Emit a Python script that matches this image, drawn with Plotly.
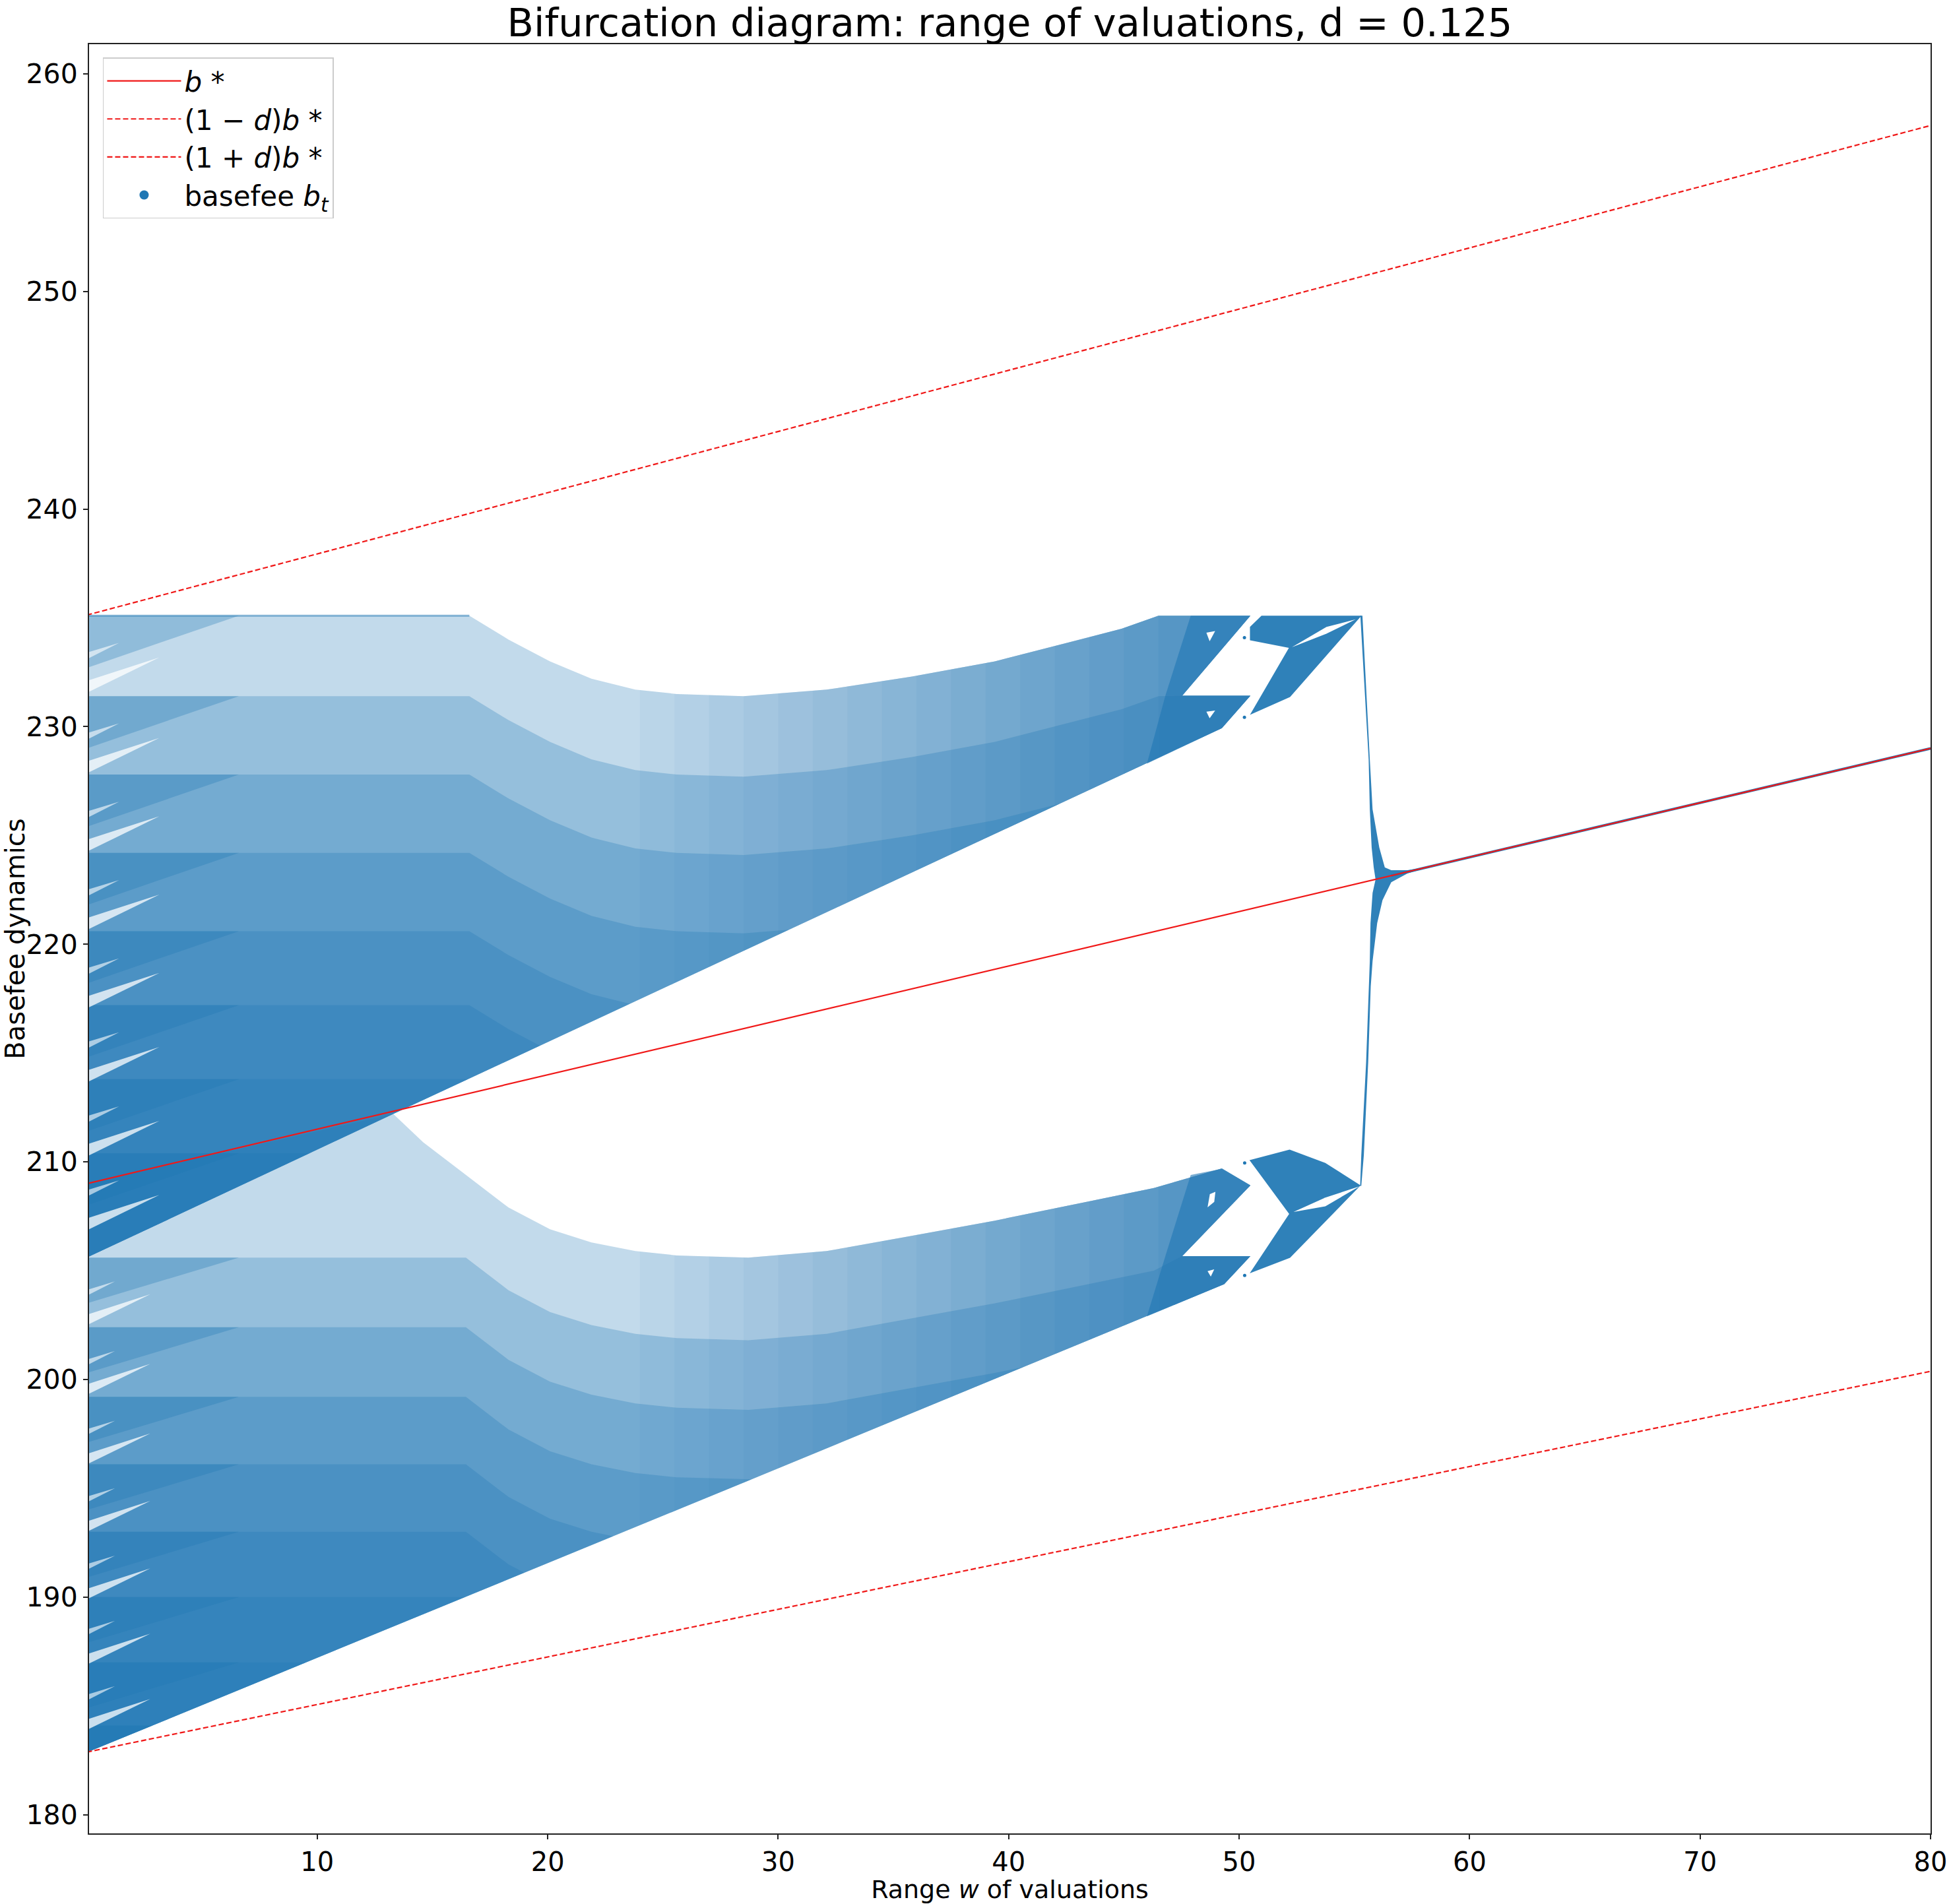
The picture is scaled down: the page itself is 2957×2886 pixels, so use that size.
import numpy as np
import plotly.graph_objects as go

# ---------------- data ----------------
TITLE = "Bifurcation diagram: range of valuations, d = 0.125"

# reference lines (straight, values at w = 0 and w = 80)
line_w = [0.0, 80.0]
bstar = [209.0, 229.0]
bstar_low = [182.875, 200.375]    # (1-d) b*
bstar_high = [235.125, 257.625]   # (1+d) b*

# upper cloud: upper envelope, lower edge, fork corner
up_top_w = [0, 16.6, 18.3, 20.1, 21.9, 23.8, 25.6, 28.5, 32.1, 35.8, 39.4, 43.1, 44.9, 46.5]
up_top_b = [235.1, 235.1, 234.0, 233.0, 232.2, 231.7, 231.5, 231.4, 231.7, 232.3, 233.0, 234.0, 234.5, 235.1]
up_low_w = [0, 13.34, 49.25]
up_low_b = [205.6, 212.22, 229.93]
up_fork_w = [50.49, 47.53, 50.49, 49.25]
up_fork_b = [235.1, 231.42, 231.42, 229.93]
up_tooth_b = [235.1, 231.4, 227.8, 224.2, 220.6, 217.2, 213.8, 210.4]

# lower cloud
lo_top_w = [0, 13.3, 14.6, 16.45, 18.3, 20.1, 21.9, 23.8, 25.6, 28.7, 32.1, 35.8, 39.4, 43.1, 46.3, 49.25]
lo_top_b = [209.0, 212.2, 210.9, 209.4, 207.9, 206.9, 206.3, 205.9, 205.7, 205.6, 205.9, 206.6, 207.3, 208.1, 208.8, 209.7]
lo_low_w = [0, 28.66, 49.35]
lo_low_b = [182.86, 195.33, 204.38]
lo_fork_w = [50.49, 47.53, 50.49, 49.35]
lo_fork_b = [208.92, 205.67, 205.67, 204.38]
lo_tooth_b = [205.6, 202.4, 199.2, 196.1, 193.0, 190.0, 187.0, 184.1]

# dense fork pieces (left and right parts) near the collapse
up_fork_left1_w = [47.9, 50.49, 47.53, 46.8]
up_fork_left1_b = [235.1, 235.1, 231.42, 231.42]
up_fork_left2_w = [46.8, 50.49, 49.25, 46.0]
up_fork_left2_b = [231.42, 231.42, 229.93, 228.3]
up_fork_right_w = [50.97, 55.31, 52.21, 50.47, 52.16, 50.47, 50.47]
up_fork_right_b = [235.1, 235.1, 231.36, 230.54, 233.62, 233.97, 234.58]
lo_fork_left1_w = [47.9, 49.25, 50.49, 47.53, 46.8]
lo_fork_left1_b = [209.4, 209.68, 208.92, 205.67, 205.67]
lo_fork_left2_w = [46.8, 50.49, 49.35, 46.0]
lo_fork_left2_b = [205.67, 205.67, 204.38, 202.9]
lo_fork_right_w = [50.45, 52.19, 53.74, 55.27, 52.21, 50.46, 52.17]
lo_fork_right_b = [210.08, 210.56, 209.95, 208.92, 205.59, 204.88, 207.61]

# empty pockets inside the forks
up_lens_w = [52.29, 53.79, 55.06, 53.79]
up_lens_b = [233.65, 234.58, 234.93, 234.27]
lo_lens_w = [52.36, 53.74, 55.22, 53.74]
lo_lens_b = [207.7, 208.36, 208.87, 207.96]
holes = [
    ([48.58, 48.96, 48.72], [234.32, 234.39, 233.92]),
    ([48.58, 48.96, 48.72], [230.69, 230.74, 230.38]),
    ([48.73, 48.97, 48.92, 48.63], [208.52, 208.62, 208.16, 207.91]),
    ([48.63, 48.92, 48.77], [204.98, 205.06, 204.73]),
]

# collapse strand (left edge top->bottom, then right edge bottom->top)
strand_w = [55.26, 55.45, 55.62, 55.67, 55.75, 55.84, 55.92, 55.79, 55.75, 55.70, 55.67, 55.63, 55.51, 55.30, 55.25,
            55.30, 55.41, 55.60, 55.71, 55.79, 55.99, 56.22, 56.6, 57.3, 58.2,
            57.3, 56.6, 56.32, 56.08, 55.79, 55.67, 55.35]
strand_b = [235.1, 231.5, 228.5, 226.2, 224.45, 223.53, 222.98, 222.36, 221.55, 220.97, 219.23, 218.07, 214.58, 210.3, 208.9,
            208.9, 210.3, 214.58, 218.07, 219.23, 220.97, 222.02, 222.85, 223.25, 223.55,
            223.4, 223.4, 223.53, 224.45, 226.2, 228.5, 235.1]
# converged branch lying on b*
conv_w = [56.6, 80.0]
conv_b = [223.15, 229.0]
# isolated points
dot_w = [50.23, 50.23, 50.24, 50.24]
dot_b = [234.09, 230.43, 209.95, 204.78]
# densely hit top edge of the upper cloud
top_edge_w = [0.0, 16.6]
top_edge_b = [235.1, 235.1]

# density steps (w where the cloud gets denser as it narrows)
boost_start = [24, 25.5, 27, 28.5, 30, 31.5, 33, 34.5, 36, 37.5, 39, 40.5, 42, 43.5, 45, 46.5]
boost_alpha = [0.045, 0.045, 0.05, 0.05, 0.05, 0.055, 0.055, 0.06, 0.06, 0.065, 0.065, 0.065, 0.07, 0.07, 0.075, 0.08]

BLUE = "31,119,180"
fig = go.Figure()


def poly(xs, ys, color, name="basefee"):
    fig.add_trace(go.Scatter(x=list(xs) + [xs[0]], y=list(ys) + [ys[0]], mode="lines",
                             line=dict(width=0), fill="toself", fillcolor=color,
                             hoverinfo="skip", showlegend=False, legendgroup=name))


def band(bw, bb, lw, lb, tail_w, tail_b):
    xs, ys, end_w = [], [], None
    for i in range(len(bw)):
        L = float(np.interp(bw[i], lw, lb))
        if bb[i] > L:
            xs.append(bw[i]); ys.append(bb[i])
        else:
            w0, b0 = bw[i - 1], bb[i - 1]
            d0 = b0 - float(np.interp(w0, lw, lb)); d1 = bb[i] - L
            t = d0 / (d0 - d1)
            wi = w0 + t * (bw[i] - w0); bi = b0 + t * (bb[i] - b0)
            xs.append(wi); ys.append(bi); end_w = wi
            break
    if end_w is None:
        xs += list(tail_w); ys += list(tail_b); end_w = tail_w[-1]
    for w, b in zip(reversed(lw), reversed(lb)):
        if w < end_w - 1e-6:
            xs.append(w); ys.append(b)
    return xs, ys


def boost(x0, tw, tb, tail_w, tail_b, lw, lb):
    xs = [x0]; ys = [float(np.interp(x0, tw, tb))]
    for w, b in zip(tw, tb):
        if w > x0:
            xs.append(w); ys.append(b)
    xs += list(tail_w); ys += list(tail_b)
    for w, b in zip(reversed(lw), reversed(lb)):
        if x0 < w < tail_w[-1] - 1e-6:
            xs.append(w); ys.append(b)
    xs.append(x0); ys.append(float(np.interp(x0, lw, lb)))
    return xs, ys


A = 0.27
# ---- upper cloud bands ----
for k, T in enumerate(up_tooth_b):
    off = up_tooth_b[0] - T
    bw = list(up_top_w); bb = [b - off for b in up_top_b]
    tw, tb = (up_fork_w, up_fork_b) if k == 0 else (up_fork_w[1:], up_fork_b[1:])
    xs, ys = band(bw, bb, up_low_w, up_low_b, tw, tb)
    poly(xs, ys, f"rgba({BLUE},{A})")
# ---- lower cloud bands ----
lo_ref = lo_top_b[lo_top_w.index(16.45)]
xs, ys = band(lo_top_w, lo_top_b, lo_low_w, lo_low_b, lo_fork_w, lo_fork_b)
poly(xs, ys, f"rgba({BLUE},{A})")
right_w = [w for w in lo_top_w if 16.45 <= w <= 46.3]
right_b = [b for w, b in zip(lo_top_w, lo_top_b) if 16.45 <= w <= 46.3]
for k, T in enumerate(lo_tooth_b):
    bw = [0] + right_w
    bb = [T] + [b - (lo_ref - T) for b in right_b]
    xs, ys = band(bw, bb, lo_low_w, lo_low_b, lo_fork_w[1:], lo_fork_b[1:])
    poly(xs, ys, f"rgba({BLUE},{A})")

# ---- density increase toward the fork ----
for x0, a in zip(boost_start, boost_alpha):
    xs, ys = boost(x0, up_top_w, up_top_b, up_fork_w, up_fork_b, up_low_w, up_low_b)
    poly(xs, ys, f"rgba({BLUE},{a})")
    xs, ys = boost(x0, lo_top_w, lo_top_b, lo_fork_w, lo_fork_b, lo_low_w, lo_low_b)
    poly(xs, ys, f"rgba({BLUE},{a})")

# ---- saw teeth at small w ----
for teeth, lw, lb, depth in [(up_tooth_b, up_low_w, up_low_b, 2.4),
                             (lo_tooth_b, lo_low_w, lo_low_b, 2.1)]:
    for T in teeth:
        wc = 6.6
        if float(np.interp(6.6, lw, lb)) > T:
            wc = float(np.interp(T, lb, lw))
        bot = max(T - depth, lb[0])
        poly([0, wc, 0], [T, T, bot], f"rgba({BLUE},0.3)")
for teeth, s in [(up_tooth_b, 1.0), (lo_tooth_b, 0.875)]:
    for T in teeth:
        poly([0, 0, 3.15 * s], [T - 3.0 * s, T - 3.55 * s, T - 1.92 * s], "rgba(255,255,255,0.75)")
        poly([0, 0, 1.4 * s], [T - 1.7 * s, T - 2.0 * s, T - 1.25 * s], "rgba(255,255,255,0.6)")
fig.add_trace(go.Scatter(x=top_edge_w, y=top_edge_b, mode="lines", line=dict(color=f"rgba({BLUE},0.5)", width=3),
                         hoverinfo="skip", showlegend=False, legendgroup="basefee"))

# ---- dense forks ----
SOLID = f"rgba({BLUE},0.93)"
for xw, yb in [(up_fork_left1_w, up_fork_left1_b), (up_fork_left2_w, up_fork_left2_b),
               (lo_fork_left1_w, lo_fork_left1_b), (lo_fork_left2_w, lo_fork_left2_b)]:
    poly(xw, yb, f"rgba({BLUE},0.6)")
poly(up_fork_right_w, up_fork_right_b, SOLID)
poly(lo_fork_right_w, lo_fork_right_b, SOLID)
poly(up_lens_w, up_lens_b, "white")
poly(lo_lens_w, lo_lens_b, "white")
for hw, hb in holes:
    poly(hw, hb, "white")
poly(strand_w, strand_b, SOLID)
fig.add_trace(go.Scatter(x=conv_w, y=conv_b, mode="lines", line=dict(color=f"rgb({BLUE})", width=4),
                         hoverinfo="skip", showlegend=False, legendgroup="basefee"))
fig.add_trace(go.Scatter(x=dot_w, y=dot_b, mode="markers", marker=dict(color=f"rgb({BLUE})", size=5),
                         hoverinfo="skip", showlegend=False, legendgroup="basefee"))

# ---- legend entry for the scatter ----
fig.add_trace(go.Scatter(x=[None], y=[None], mode="markers", name="basefee <i>b</i><sub><i>t</i></sub>",
                         marker=dict(color=f"rgb({BLUE})", size=14), legendgroup="basefee", legendrank=4))

# ---- reference lines ----
RED = "#f01818"
fig.add_trace(go.Scatter(x=line_w, y=bstar, mode="lines", name="<i>b</i> *",
                         line=dict(color=RED, width=2.2), legendgroup="g1", legendrank=1))
fig.add_trace(go.Scatter(x=line_w, y=bstar_low, mode="lines", name="(1 − <i>d</i>)<i>b</i> *",
                         line=dict(color=RED, width=2.2, dash="8px,4px"), legendgroup="g2", legendrank=2))
fig.add_trace(go.Scatter(x=line_w, y=bstar_high, mode="lines", name="(1 + <i>d</i>)<i>b</i> *",
                         line=dict(color=RED, width=2.2, dash="8px,4px"), legendgroup="g3", legendrank=3))

FONT = "DejaVu Sans"
fig.update_layout(
    width=2957, height=2886,
    margin=dict(l=135, r=31, t=67, b=107),
    paper_bgcolor="white", plot_bgcolor="white",
    font=dict(family=FONT, color="black", size=40),
    title=dict(text=TITLE, x=0.5, xref="paper", xanchor="center", y=1 - 34 / 2886, yanchor="middle",
               font=dict(family=FONT, size=59, color="black")),
    showlegend=True,
    legend=dict(x=0.0075, y=0.9925, xanchor="left", yanchor="top", bgcolor="rgba(255,255,255,0.85)",
                bordercolor="#cccccc", borderwidth=1.5, font=dict(family=FONT, size=42, color="black"),
                itemwidth=112, tracegroupgap=13, traceorder="normal"),
    xaxis=dict(range=[0.1, 80], tickvals=[10, 20, 30, 40, 50, 60, 70, 80], showgrid=False, zeroline=False,
               showline=True, linecolor="#222", linewidth=2, mirror=True, ticks="outside", ticklen=7,
               tickwidth=2, tickcolor="#222", tickfont=dict(family=FONT, size=40, color="black"),
               title=dict(text="Range <i>w</i> of valuations", font=dict(family=FONT, size=38, color="black"),
                          standoff=3), automargin=False),
    yaxis=dict(range=[179.14, 261.36], tickvals=[180, 190, 200, 210, 220, 230, 240, 250, 260], showgrid=False,
               zeroline=False, showline=True, linecolor="#222", linewidth=2, mirror=True, ticks="outside",
               ticklen=7, tickwidth=2, tickcolor="#222", tickfont=dict(family=FONT, size=41, color="black"),
               title=dict(text="Basefee dynamics", font=dict(family=FONT, size=40, color="black"), standoff=6),
               automargin=False),
)

fig.write_html("out.html", config={"displayModeBar": False},
               post_script="document.body.style.margin='0';document.body.style.overflow='hidden';")
